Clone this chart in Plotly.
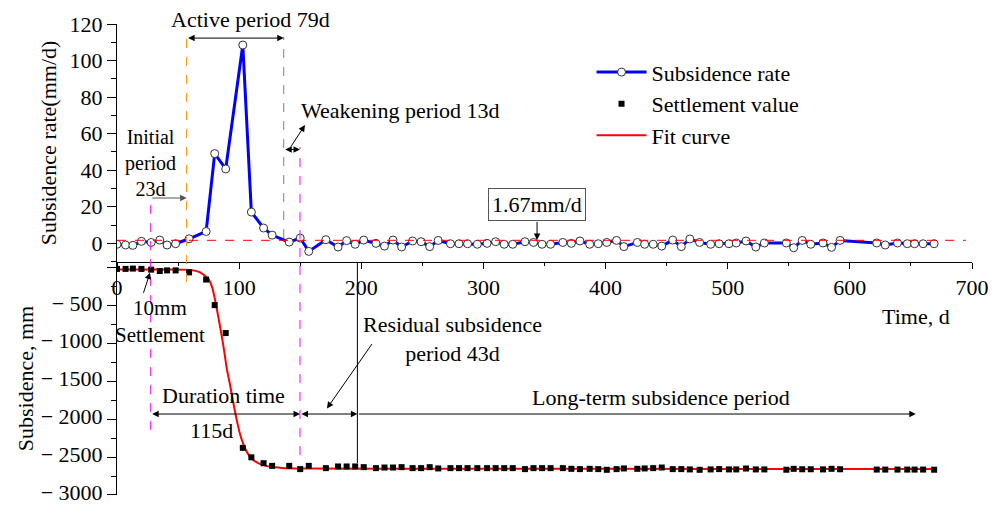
import plotly.graph_objects as go

# ---------------- data ----------------
days = [0, 7, 13, 20, 28, 35, 41, 48, 59, 73, 80, 89, 103, 110, 120, 127, 141, 150, 157,
        171, 181, 188, 195, 202, 212, 219, 226, 233, 242, 249, 256, 263, 273, 280, 287,
        295, 303, 310, 317, 324, 334, 341, 348, 355, 365, 372, 379, 387, 394, 401, 409,
        415, 426, 432, 439, 446, 455, 462, 469, 477, 486, 493, 501, 507, 515, 523, 530,
        548, 554, 561, 568, 578, 585, 592, 622, 629, 639, 647, 653, 660, 669]

rate = [-0.5, -0.9, -1.1, 1.1, 0.5, 1.8, -0.9, -0.2, 2.5, 6.5, 49.1, 40.7, 108.5, 17.1,
        8.4, 4.5, 0.7, 2.9, -4.4,
        2.0, -2.0, 1.5, -0.5, 1.8, 0.0, -1.5, 1.8, -2.0, 1.3, 0.9, -1.8, 1.6, -0.2, -0.2,
        -0.2, -0.5, 0.0, 0.9, -0.5, -0.5, 0.9, 0.5, -0.5, -0.5, 0.5, 0.0, 1.3, -0.5, -0.2,
        0.5, 1.6, -1.8, 0.5, -0.5, -0.5, -1.5, 1.8, -1.8, 2.4, 0.5, -0.5, -0.2, -0.2, 0.2,
        1.3, -2.0, 0.2, 0.2, -2.4, 1.6, -0.5, 0.2, -2.2, 1.6, 0.2, -0.9, 0.2, -0.2, -0.2,
        -0.2, -0.2]

settlement = [-12, -12, -8, -12, -22, -40, -32, -32, -58, -153, -491, -860, -2377, -2502,
              -2580, -2615, -2615, -2658, -2615,
              -2645, -2623, -2623, -2623, -2632, -2645, -2637, -2637, -2632, -2645, -2645,
              -2632, -2649, -2645, -2645, -2645, -2645, -2645, -2645, -2645, -2645, -2658,
              -2645, -2645, -2645, -2645, -2654, -2658, -2654, -2658, -2667, -2658, -2649,
              -2654, -2649, -2645, -2637, -2658, -2658, -2662, -2667, -2662, -2658, -2662,
              -2662, -2650, -2662, -2662, -2666, -2654, -2660, -2660, -2662, -2654, -2660,
              -2664, -2664, -2664, -2664, -2664, -2664, -2666]

fit_days = [0, 40, 60, 66, 70, 75, 78, 81, 84, 87, 90, 92.5, 95, 97, 99, 101, 104, 107,
            110, 114, 120, 126, 135, 150, 300, 500, 671]
fit_value = [-20, -21, -26, -45, -80, -150, -260, -480, -740, -1020, -1340, -1540, -1760,
             -1930, -2080, -2210, -2350, -2450, -2515, -2565, -2605, -2628, -2642, -2650,
             -2653, -2655, -2656]

mean_rate = 1.67

x_ticks = [0, 100, 200, 300, 400, 500, 600, 700]
rate_ticks = [0, 20, 40, 60, 80, 100, 120]
sub_ticks = [-3000, -2500, -2000, -1500, -1000, -500, 0]
sub_tick_text = ["\u2212 3000", "\u2212 2500", "\u2212 2000", "\u2212 1500", "\u2212 1000", "\u2212 500", ""]

# period boundaries (days)
t_initial = 27.6
t_active0 = 57.0
t_active1 = 136.5
t_weak1 = 149.8
t_resid1 = 196.8
t_long_end = 654.0

FONT = "Liberation Serif"

fig = go.Figure()

fig.add_trace(go.Scatter(
    x=days, y=rate, mode="lines+markers", name="Subsidence rate",
    line=dict(color="#0000FF", width=3),
    marker=dict(symbol="circle", size=8, color="white", line=dict(color="#333333", width=1)),
    xaxis="x", yaxis="y", legendrank=1))

fig.add_trace(go.Scatter(
    x=fit_days, y=fit_value, mode="lines", name="Fit curve",
    line=dict(color="#FF0000", width=2, shape="spline", smoothing=0.6),
    xaxis="x2", yaxis="y2", legendrank=3))

fig.add_trace(go.Scatter(
    x=days, y=settlement, mode="markers", name="Settlement value",
    marker=dict(symbol="square", size=6, color="black"),
    xaxis="x2", yaxis="y2", legendrank=2))

split = 0.4947

axis_common = dict(showline=True, linecolor="black", linewidth=1, showgrid=False,
                   zeroline=False, tickcolor="black", automargin=False,
                   tickfont=dict(family=FONT, size=22, color="black"))

fig.update_layout(
    width=997, height=506,
    margin=dict(l=117, r=25, t=24, b=11, autoexpand=False),
    paper_bgcolor="white", plot_bgcolor="white",
    font=dict(family=FONT, size=22, color="black"),
    xaxis=dict(domain=[0, 1], range=[0, 700], anchor="y", tickvals=x_ticks,
               ticks="outside", ticklen=6,
               minor=dict(ticks="outside", ticklen=3, tick0=0, dtick=50, tickcolor="black"),
               **axis_common),
    yaxis=dict(domain=[split, 1], range=[-10.2, 120], anchor="x", tickvals=rate_ticks,
               ticks="outside", ticklen=9,
               minor=dict(ticks="outside", ticklen=5, tick0=0, dtick=10, tickcolor="black"),
               title=dict(text="Subsidence rate(mm/d)", font=dict(family=FONT, size=22),
                          standoff=6),
               **axis_common),
    xaxis2=dict(domain=[0, 1], range=[0, 700], anchor="y2", matches="x", visible=False),
    yaxis2=dict(domain=[0, split], range=[-3000, 79], anchor="x2", tickvals=sub_ticks,
                ticktext=sub_tick_text, ticks="outside", ticklen=9,
                ticklabeloverflow="allow", ticklabelshift=-3,
                minor=dict(ticks="outside", ticklen=5, tick0=0, dtick=250, tickcolor="black"),
                title=dict(text="Subsidence, mm", font=dict(family=FONT, size=22),
                           standoff=0),
                **axis_common),
    legend=dict(x=0.555, y=0.942, xanchor="left", yanchor="top",
                font=dict(family=FONT, size=22), bgcolor="rgba(0,0,0,0)",
                itemwidth=50, tracegroupgap=0),
    showlegend=True,
)

# ---------------- reference lines ----------------
def vline(x, y0, y1, color, dash, width=1):
    fig.add_shape(type="line", xref="x", yref="paper", x0=x, x1=x, y0=y0, y1=y1,
                  line=dict(color=color, dash=dash, width=width))

# mean rate line
fig.add_shape(type="line", xref="x", yref="y", x0=0, x1=695, y0=mean_rate, y1=mean_rate,
              line=dict(color="#FF0000", dash="dash", width=1))
vline(t_active0, 0.4522, 0.9703, "#FF8C00", "dash")
vline(t_active1, 0.5456, 0.9724, "#808080", "dash")
vline(t_initial, 0.1380, 0.6306, "#FF00FF", "dash")
vline(t_weak1, 0.0849, 0.7389, "#FF00FF", "dash")
vline(t_resid1, 0.0679, split, "black", "solid")

# ---------------- annotations ----------------
def arrow(x0, y0, x1, y1, yref, side="end", color="black"):
    fig.add_annotation(x=x1, y=y1, ax=x0, ay=y0, xref="x", yref=yref, axref="x", ayref=yref,
                       text="", showarrow=True, arrowhead=2, arrowsize=1.3, arrowwidth=1,
                       arrowcolor=color, arrowside=side, standoff=0, startstandoff=0)

def label(x, y, text, yref, size=22, **kw):
    fig.add_annotation(x=x, y=y, xref="x", yref=yref, text=text, showarrow=False,
                       xanchor="center", yanchor="middle",
                       font=dict(family=FONT, size=size, color="black"), **kw)

# top panel
label(108.9, 1.0085, "Active period 79d", "paper")
arrow(t_active0, 112.3, t_active1, 112.3, "y", side="end+start")

label(27.6, 44.0, "Initial<br>period<br>23d", "y", size=20)
arrow(t_initial, 24.8, t_active0, 24.8, "y", color="#555555")

label(232.5, 72.9, "Weakening period 13d", "y")
arrow(t_active1, 51.4, t_weak1, 51.4, "y", side="end+start")
arrow(141.6, 52.1, 153.9, 64.7, "y")

fig.add_annotation(x=343.6, y=21.5, xref="x", yref="y", text="1.67mm/d", showarrow=False,
                   font=dict(family=FONT, size=22, color="black"),
                   bordercolor="#555555", borderwidth=1, borderpad=3, bgcolor="white")
arrow(343.9, 12.6, 343.9, 1.9, "y")

# bottom panel
label(654.2, -647, "Time, d", "y2")

label(35.0, -712, "10mm<br>Settlement", "y2", size=21)
arrow(21.3, -348, 27.0, -62, "y2")

label(87.2, -1687, "Duration time", "y2")
arrow(t_initial, -1930, t_weak1, -1930, "y2", side="end+start")
label(77.5, -2142, "115d", "y2")

arrow(t_weak1, -1930, t_resid1, -1930, "y2", side="end+start")
label(274.5, -937, "Residual subsidence<br>period 43d", "y2")
arrow(209.6, -985, 171.9, -1856, "y2")

arrow(t_resid1, -1930, t_long_end, -1930, "y2")
label(445.4, -1713, "Long-term subsidence period", "y2")

fig.write_html("out.html")
